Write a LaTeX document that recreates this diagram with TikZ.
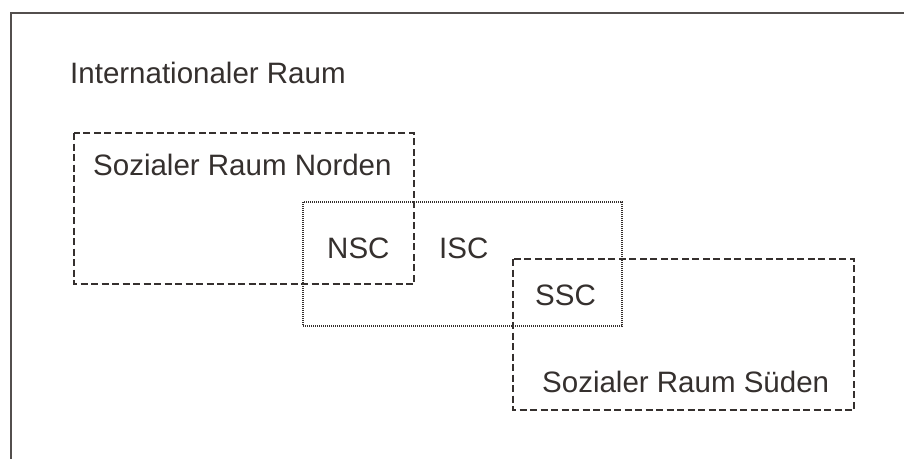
\documentclass[tikz,border=0pt]{standalone}
\usepackage{fontspec}
\setmainfont{Liberation Sans}
\definecolor{ink}{HTML}{35302E}
\begin{document}
\begin{tikzpicture}[x=1pt,y=-1pt,
  lbl/.style={anchor=base west,inner sep=0pt,text=ink,font=\fontsize{29.5}{32}\selectfont},
  dashbox/.style={draw=ink,line width=1.1pt,dash pattern=on 7pt off 3.5pt},
  dotbox/.style={draw=ink,line width=1.1pt,dash pattern=on 1pt off 1pt},
  frame/.style={draw=ink!85,line width=1.3pt}]
\useasboundingbox (0,0) rectangle (904,459);
\fill[white] (0,0) rectangle (904,459);
\draw[frame] (904,13) -- (11,13) -- (11,459);
\draw[dashbox] (74,133) rectangle (414,284);
\draw[dashbox] (513,259) rectangle (854,410);
\draw[dotbox] (303,202) rectangle (622,326);
\node[lbl] (intl) at (70,83) {Internationaler Raum};
\node[lbl] (nord) at (93,175) {Sozialer Raum Norden};
\node[lbl] (nsc) at (327,258) {NSC};
\node[lbl] (isc) at (439,258) {ISC};
\node[lbl] (ssc) at (535,305) {SSC};
\node[lbl] (sued) at (542,392) {Sozialer Raum Süden};
\end{tikzpicture}
\end{document}
